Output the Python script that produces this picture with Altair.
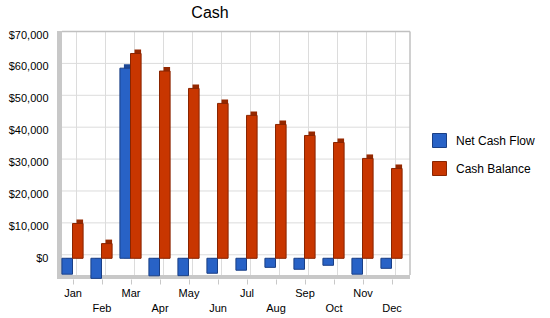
import altair as alt
import pandas as pd

months = ["Jan", "Feb", "Mar", "Apr", "May", "Jun", "Jul", "Aug", "Sep", "Oct", "Nov", "Dec"]
series_names = ["Net Cash Flow", "Cash Balance"]
net_cash_flow = [-5000, -6300, 59600, -5500, -5450, -4700, -3750, -2850, -3450, -2200, -5000, -3150]
cash_balance = [10900, 4600, 64200, 58700, 53250, 48550, 44800, 41950, 38500, 36300, 31300, 28150]
y_ticks = [0, 10000, 20000, 30000, 40000, 50000, 60000, 70000]
title_text = ["Cash"]

front_colors = ["#2862c6", "#c83600"]
side_colors = ["#1d4896", "#952800"]
edge_colors = ["#1a3f85", "#8a2500"]

rows = []
for i, m in enumerate(months):
    rows.append({"month": m, "idx": i, "s": 0, "series": series_names[0], "value": net_cash_flow[i]})
    rows.append({"month": m, "idx": i, "s": 1, "series": series_names[1], "value": cash_balance[i]})
df = pd.DataFrame(rows)
grid_df = pd.DataFrame({"v": y_ticks})
month_df = pd.DataFrame({"idx": list(range(len(months))), "month": months})
title_df = pd.DataFrame({"t": title_text})

W, H = 348, 244
DEPTH = 4
FONT = "Liberation Sans"
PAD_OUT = 0.135
BAR_W = 0.365

x_scale = alt.Scale(domain=[0, len(months)], nice=False, zero=False)
y_scale = alt.Scale(domain=[-6500, 70000], nice=False, zero=False)

month_js = "[" + ",".join("'%s'" % m for m in months) + "]"
label_expr = ("floor(datum.value) % 2 == 1 ? ['', {m}[floor(datum.value)]] : {m}[floor(datum.value)]"
              .format(m=month_js))

y_axis = alt.Axis(
    values=y_ticks, format="$,.0f", title=None, domain=False, ticks=False, grid=False,
    labelFont=FONT, labelFontSize=11, labelColor="#000", labelPadding=10, labelOverlap=False)
x_axis = alt.Axis(
    values=[i + 0.5 for i in range(len(months))], title=None, domain=False, ticks=True,
    tickSize=5, tickColor="#c8c8c8", grid=False, labelAngle=0, labelFont=FONT, labelFontSize=11,
    labelColor="#000", labelPadding=3, labelLineHeight=15, labelBaseline="top",
    labelOverlap=False, labelFlush=False, labelExpr=label_expr)

one = month_df.head(1)

# walls of the 3-D box
left_wall = alt.Chart(one).mark_rect(color="#c8c8c8").encode(
    x=alt.value(-1), x2=alt.value(DEPTH), y=alt.value(-DEPTH), y2=alt.value(H)
)
floor = alt.Chart(one).mark_rect(color="#c8c8c8").encode(
    x=alt.value(-1), x2=alt.value(W + DEPTH), y=alt.value(H - DEPTH), y2=alt.value(H)
)
back_right = alt.Chart(one).mark_rule(color="#c0c0c0", strokeWidth=1.5).encode(
    x=alt.value(W + DEPTH), y=alt.value(-3.5), y2=alt.value(H - DEPTH)
)
back_top = alt.Chart(one).mark_rule(color="#c0c0c0", strokeWidth=1.5).encode(
    x=alt.value(DEPTH), x2=alt.value(W + DEPTH), y=alt.value(-3.5)
)

hgrid = alt.Chart(grid_df).mark_rule(color="#dcdcdc", strokeWidth=1, yOffset=-3.5).encode(
    y=alt.Y("v:Q", scale=y_scale, axis=y_axis),
    x=alt.value(DEPTH), x2=alt.value(W + DEPTH),
)
vgrid = alt.Chart(month_df).transform_calculate(c="datum.idx + 0.5").mark_rule(
    color="#dcdcdc", strokeWidth=1, xOffset=DEPTH).encode(
    x=alt.X("c:Q", scale=x_scale, axis=x_axis),
    y=alt.value(-3.5), y2=alt.value(H - DEPTH),
)

def bar_base(d):
    return alt.Chart(d).transform_calculate(
        x0="datum.idx + %f + datum.s * %f" % (PAD_OUT, BAR_W),
        x1="datum.idx + %f + (datum.s + 1) * %f" % (PAD_OUT, BAR_W),
    )

shadows = []
for k, name in enumerate(series_names):
    shadows.append(
        bar_base(df[df["series"] == name]).mark_bar(
            xOffset=DEPTH, yOffset=-DEPTH, color=side_colors[k]).encode(
            x=alt.X("x0:Q", scale=x_scale, axis=x_axis),
            x2="x1:Q",
            y=alt.Y("value:Q", scale=y_scale, axis=y_axis),
            y2=alt.datum(0),
        )
    )

legend_kw = dict(title=None, orient="none", legendX=374, legendY=98,
                 symbolType="square", symbolSize=196, symbolStrokeWidth=1,
                 labelFont=FONT, labelFontSize=12, labelColor="#000",
                 labelOffset=9, rowPadding=9, padding=0)

front = bar_base(df).mark_bar(strokeWidth=1).encode(
    x=alt.X("x0:Q", scale=x_scale, axis=x_axis),
    x2="x1:Q",
    y=alt.Y("value:Q", scale=y_scale, axis=y_axis),
    y2=alt.datum(0),
    color=alt.Color("series:N", scale=alt.Scale(domain=series_names, range=front_colors),
                    sort=series_names, legend=alt.Legend(**legend_kw)),
    stroke=alt.Stroke("series:N", scale=alt.Scale(domain=series_names, range=edge_colors),
                      sort=series_names, legend=alt.Legend(**legend_kw)),
)

title = alt.Chart(title_df).mark_text(
    font=FONT, fontSize=16, color="#000", align="center", baseline="alphabetic").encode(
    text="t:N", x=alt.value(152), y=alt.value(-17)
)

chart = alt.layer(
    left_wall, floor, hgrid, vgrid, back_right, back_top, *shadows, front, title
).properties(
    width=W, height=H,
    autosize=alt.AutoSizeParams(type="none"),
    padding={"left": 58, "top": 35, "right": 144, "bottom": 39},
    background="white",
).configure_view(stroke=None)

chart.save("out.html", embed_options={"renderer": "svg", "actions": False})
